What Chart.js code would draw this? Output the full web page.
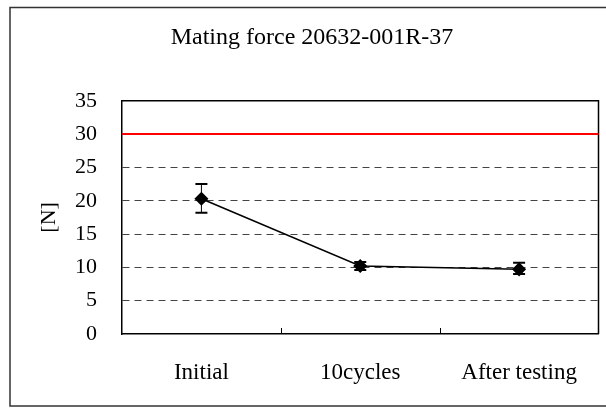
<!DOCTYPE html>
<html>
<head>
<meta charset="utf-8">
<script src="https://cdn.jsdelivr.net/npm/chart.js@4/dist/chart.umd.min.js"></script>
<style>
  html, body { margin: 0; padding: 0; background: #fff; }
  #wrap { width: 606px; height: 408px; }
</style>
</head>
<body>
<div id="wrap"><canvas id="c" width="606" height="408"></canvas></div>
<script>
const titleText = 'Mating force 20632-001R-37';
const yAxisTitle = '[N]';
const categories = ['Initial', '10cycles', 'After testing'];
const meanValues = [20.3, 10.2, 9.7];
const errPlus = [2.2, 0.6, 1.0];
const errMinus = [2.1, 0.6, 0.7];
const limitValue = 30;
const yMin = 0, yMax = 35, yStep = 5;

const serif = "'Liberation Serif', 'Times New Roman', serif";

const framePlugin = {
  id: 'frame',
  beforeDraw(chart) {
    const ctx = chart.ctx;
    ctx.save();
    ctx.fillStyle = '#fff';
    ctx.fillRect(0, 0, chart.width, chart.height);
    ctx.strokeStyle = '#333';
    ctx.lineWidth = 1.5;
    ctx.strokeRect(10, 7.5, 620, 398.5);
    ctx.restore();
  }
};

const boxPlugin = {
  id: 'box',
  beforeDatasetsDraw(chart) {
    const ctx = chart.ctx;
    const a = chart.chartArea;
    const ys = chart.scales.y;
    const xs = chart.scales.x;
    ctx.save();
    ctx.strokeStyle = '#000';
    ctx.lineWidth = 1.5;
    ctx.beginPath();
    ctx.moveTo(a.left, a.top);
    ctx.lineTo(a.right, a.top);
    ctx.lineTo(a.right, a.bottom);
    ctx.stroke();
    ctx.lineWidth = 1;
    for (let i = 0; i < categories.length - 1; i++) {
      const px = Math.round((xs.getPixelForValue(i) + xs.getPixelForValue(i + 1)) / 2) + 0.5;
      ctx.beginPath();
      ctx.moveTo(px, a.bottom);
      ctx.lineTo(px, a.bottom - 6);
      ctx.stroke();
    }
    const ly = ys.getPixelForValue(limitValue);
    ctx.strokeStyle = '#ff0000';
    ctx.lineWidth = 2;
    ctx.beginPath();
    ctx.moveTo(a.left, ly);
    ctx.lineTo(a.right, ly);
    ctx.stroke();
    ctx.strokeStyle = '#000';
    for (let i = 0; i < meanValues.length; i++) {
      const px = xs.getPixelForValue(i);
      const top = ys.getPixelForValue(meanValues[i] + errPlus[i]);
      const bot = ys.getPixelForValue(meanValues[i] - errMinus[i]);
      ctx.lineWidth = 1;
      ctx.beginPath();
      ctx.moveTo(px, top);
      ctx.lineTo(px, bot);
      ctx.stroke();
      ctx.lineWidth = 2;
      ctx.beginPath();
      ctx.moveTo(px - 6, top);
      ctx.lineTo(px + 6, top);
      ctx.moveTo(px - 6, bot);
      ctx.lineTo(px + 6, bot);
      ctx.stroke();
    }
    ctx.restore();
  }
};

new Chart(document.getElementById('c'), {
  type: 'line',
  data: {
    labels: categories,
    datasets: [{
      data: meanValues,
      borderColor: '#000',
      backgroundColor: '#000',
      borderWidth: 1.5,
      pointStyle: 'rectRot',
      pointRadius: 6,
      pointHoverRadius: 6,
      tension: 0
    }]
  },
  options: {
    responsive: false,
    animation: false,
    devicePixelRatio: 1,
    layout: { padding: { left: 24, right: 6, top: 0, bottom: 0 } },
    plugins: {
      legend: { display: false },
      tooltip: { enabled: false },
      title: {
        display: true,
        text: titleText,
        color: '#000',
        font: { family: serif, size: 24, weight: 'normal' },
        padding: { top: 23, bottom: 49 }
      }
    },
    scales: {
      x: {
        offset: true,
        grid: { display: false, offset: true },
        border: { color: '#000', width: 1.5 },
        ticks: {
          color: '#000',
          font: { family: serif, size: 23 },
          padding: 17,
          maxRotation: 0,
          autoSkip: false
        },
        afterFit(s) { s.height = 74; }
      },
      y: {
        min: yMin,
        max: yMax,
        grid: {
          drawTicks: false,
          color: (c) => (c.tick && (c.tick.value === yMin || c.tick.value === yMax || c.tick.value === limitValue)) ? 'rgba(0,0,0,0)' : '#444',
          lineWidth: 1
        },
        border: { color: '#000', width: 1.5, dash: [7, 5], dashOffset: 0 },
        ticks: {
          stepSize: yStep,
          color: '#000',
          font: { family: serif, size: 22 },
          padding: 25
        },
        title: {
          display: true,
          text: yAxisTitle,
          color: '#000',
          font: { family: serif, size: 22 },
          padding: { top: 12, bottom: 0 }
        },
        afterFit(s) { s.width = 98; }
      }
    }
  },
  plugins: [framePlugin, boxPlugin]
});
</script>
</body>
</html>
